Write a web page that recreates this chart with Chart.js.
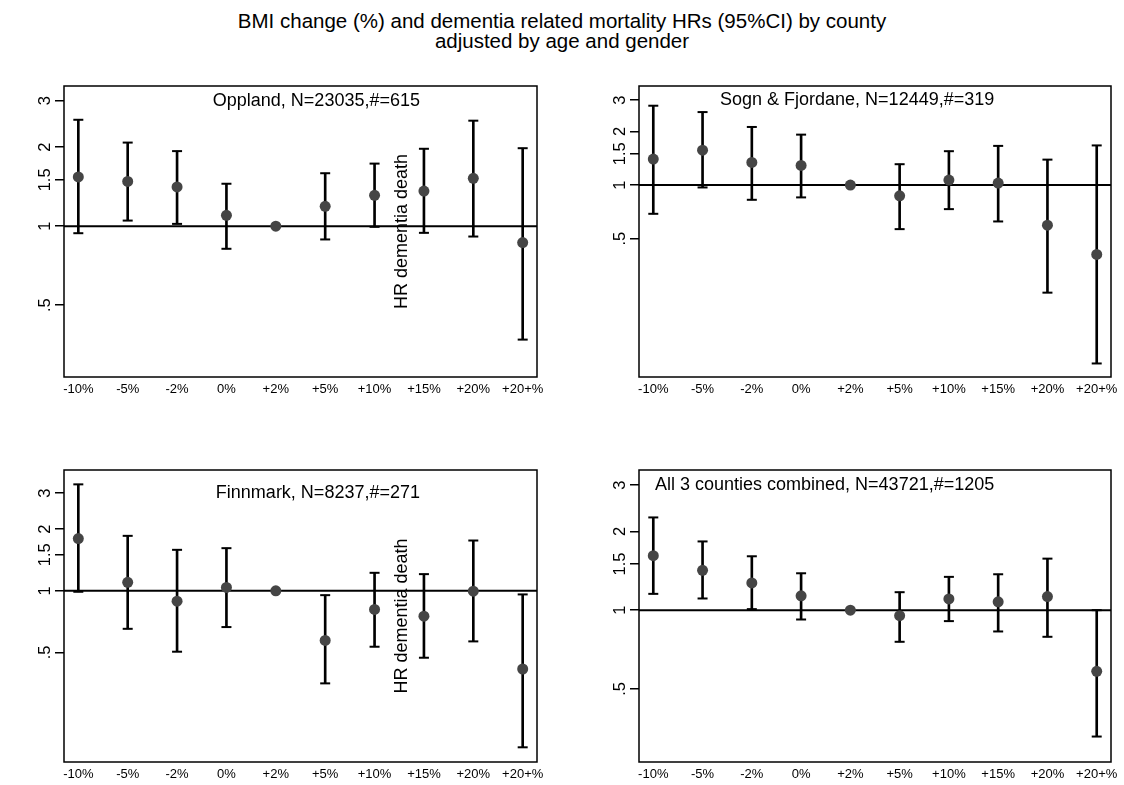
<!DOCTYPE html>
<html><head><meta charset="utf-8">
<script src="https://cdn.jsdelivr.net/npm/chart.js@4.4.0/dist/chart.umd.min.js"></script>
<style>
html,body{margin:0;padding:0;background:#fff;width:1124px;height:785px;overflow:hidden;position:relative;font-family:"Liberation Sans",Arial,sans-serif;}
#title{position:absolute;left:0;top:11px;width:1124px;text-align:center;font-size:20.5px;line-height:20px;color:#000;}
canvas{position:absolute;}
</style></head><body>
<div id="title">BMI change (%) and dementia related mortality HRs (95%CI) by county<br>adjusted by age and gender</div>
<canvas id="p1" width="562" height="330" style="left:0px;top:70px"></canvas>
<canvas id="p2" width="549" height="330" style="left:575px;top:70px"></canvas>
<canvas id="p3" width="562" height="331" style="left:0px;top:454px"></canvas>
<canvas id="p4" width="549" height="331" style="left:575px;top:454px"></canvas>
<script>
const categories = ['-10%','-5%','-2%','0%','+2%','+5%','+10%','+15%','+20%','+20+%'];
const yTickValues = [0.5, 1, 1.5, 2, 3];
const yTickLabels = ['.5', '1', '1.5', '2', '3'];

const opplandHR = [1.54, 1.48, 1.41, 1.10, 1, 1.19, 1.31, 1.36, 1.52, 0.866];
const opplandLo = [0.94, 1.05, 1.02, 0.82, null, 0.89, 0.994, 0.943, 0.913, 0.37];
const opplandHi = [2.54, 2.08, 1.93, 1.45, null, 1.59, 1.73, 1.97, 2.52, 1.98];

const sognHR = [1.40, 1.57, 1.34, 1.29, 1, 0.871, 1.067, 1.026, 0.596, 0.408];
const sognLo = [0.69, 0.97, 0.827, 0.853, null, 0.566, 0.733, 0.625, 0.249, 0.0997];
const sognHi = [2.79, 2.57, 2.12, 1.92, null, 1.31, 1.55, 1.66, 1.39, 1.67];

const finnmarkHR = [1.80, 1.10, 0.89, 1.038, 1, 0.572, 0.811, 0.752, 0.996, 0.415];
const finnmarkLo = [0.989, 0.652, 0.504, 0.665, null, 0.353, 0.533, 0.471, 0.566, 0.172];
const finnmarkHi = [3.31, 1.855, 1.585, 1.615, null, 0.952, 1.224, 1.206, 1.76, 0.96];

const combinedHR = [1.615, 1.42, 1.271, 1.134, 1, 0.952, 1.104, 1.076, 1.127, 0.584];
const combinedLo = [1.154, 1.108, 1.009, 0.921, null, 0.757, 0.908, 0.829, 0.791, 0.329];
const combinedHi = [2.26, 1.83, 1.606, 1.383, null, 1.171, 1.34, 1.371, 1.573, 1.0];

const panelTitles = [
  'Oppland, N=23035,#=615',
  'Sogn & Fjordane, N=12449,#=319',
  'Finnmark, N=8237,#=271',
  'All 3 counties combined, N=43721,#=1205'
];
const yAxisTitle = 'HR dementia death';

const FONT = '"Liberation Sans", Arial, sans-serif';
Chart.defaults.font.family = FONT;
Chart.defaults.color = '#000';

const boxPlugin = {
  id: 'box',
  afterDraw(chart) {
    const {ctx, chartArea: a} = chart;
    ctx.save();
    ctx.strokeStyle = '#000';
    ctx.lineWidth = 1.5;
    ctx.strokeRect(a.left, a.top, a.right - a.left, a.bottom - a.top);
    ctx.restore();
  }
};

const labelPlugin = {
  id: 'panelLabel',
  afterDatasetsDraw(chart, args, opts) {
    const {ctx, chartArea: a, scales: {x, y}} = chart;
    ctx.save();
    ctx.fillStyle = '#000';
    ctx.font = '18px ' + FONT;
    ctx.textAlign = 'right';
    ctx.textBaseline = 'middle';
    ctx.fillText(opts.text, x.getPixelForValue(opts.x), y.getPixelForValue(opts.y));
    if (opts.side) {
      ctx.font = '18px ' + FONT;
      ctx.translate(x.getPixelForValue(opts.sideX), (a.top + a.bottom) / 2);
      ctx.rotate(-Math.PI / 2);
      ctx.textAlign = 'center';
      ctx.fillText(opts.side, 0, 0);
    }
    ctx.restore();
  }
};

function makePanel(id, hr, lo, hi, title, yMin, yMax, padRight, side) {
  const idx = categories.map((c, i) => i);
  const pts = idx.map(i => ({x: i, y: hr[i]}));
  const bars = idx.filter(i => lo[i] != null).map(i => ({x: i, y: [lo[i], hi[i]]}));
  const lowCaps = idx.filter(i => lo[i] != null).map(i => ({x: i, y: lo[i]}));
  const highCaps = idx.filter(i => hi[i] != null).map(i => ({x: i, y: hi[i]}));
  const xMin = -0.29, xMax = categories.length - 1 + 0.29;
  new Chart(document.getElementById(id), {
    data: {
      datasets: [
        {type: 'line', data: [{x: xMin, y: 1}, {x: xMax, y: 1}], borderColor: '#000', borderWidth: 2, pointRadius: 0, order: 5},
        {type: 'bar', data: bars, backgroundColor: '#000', borderWidth: 0, barThickness: 2, order: 4},
        {type: 'scatter', data: lowCaps, pointStyle: 'line', pointRadius: 5, borderColor: '#000', borderWidth: 2, order: 3},
        {type: 'scatter', data: highCaps, pointStyle: 'line', pointRadius: 5, borderColor: '#000', borderWidth: 2, order: 2},
        {type: 'scatter', data: pts, pointStyle: 'circle', pointRadius: 5.5, backgroundColor: '#454545', borderWidth: 0, order: 1}
      ]
    },
    options: {
      responsive: false,
      animation: false,
      events: [],
      layout: {padding: {top: 16, right: padRight, left: 0, bottom: 0}},
      plugins: {
        legend: {display: false},
        tooltip: {enabled: false},
        panelLabel: {text: title, x: 6.92, y: 3, side: side, sideX: 6.55}
      },
      scales: {
        x: {
          type: 'linear', min: xMin, max: xMax, offset: false,
          afterBuildTicks: s => { s.ticks = idx.map(i => ({value: i})); },
          afterFit: s => { s.height = 23; },
          grid: {display: false, drawTicks: false, offset: false},
          border: {display: false},
          ticks: {autoSkip: false, maxRotation: 0, padding: 5, font: {size: 13}, color: '#000',
                  callback: v => categories[v]}
        },
        y: {
          type: 'logarithmic', min: yMin, max: yMax,
          afterBuildTicks: s => { s.ticks = yTickValues.map(v => ({value: v})); },
          afterFit: s => { s.width = 64; },
          grid: {display: true, drawOnChartArea: false, drawTicks: true, tickLength: 9, color: '#000', lineWidth: 1.5},
          border: {display: false},
          ticks: {minRotation: 90, maxRotation: 90, crossAlign: 'center', padding: -2, font: {size: 16.5}, color: '#000',
                  callback: v => { const k = yTickValues.indexOf(v); return k >= 0 ? yTickLabels[k] : ''; }}
        }
      }
    },
    plugins: [boxPlugin, labelPlugin]
  });
}

makePanel('p1', opplandHR, opplandLo, opplandHi, panelTitles[0], 0.2666, 3.415, 25, yAxisTitle);
makePanel('p2', sognHR, sognLo, sognHi, panelTitles[1], 0.0837, 3.6, 13, null);
makePanel('p3', finnmarkHR, finnmarkLo, finnmarkHi, panelTitles[2], 0.1458, 3.89, 25, yAxisTitle);
makePanel('p4', combinedHR, combinedLo, combinedHi, panelTitles[3], 0.263, 3.43, 13, null);
</script>
</body></html>
